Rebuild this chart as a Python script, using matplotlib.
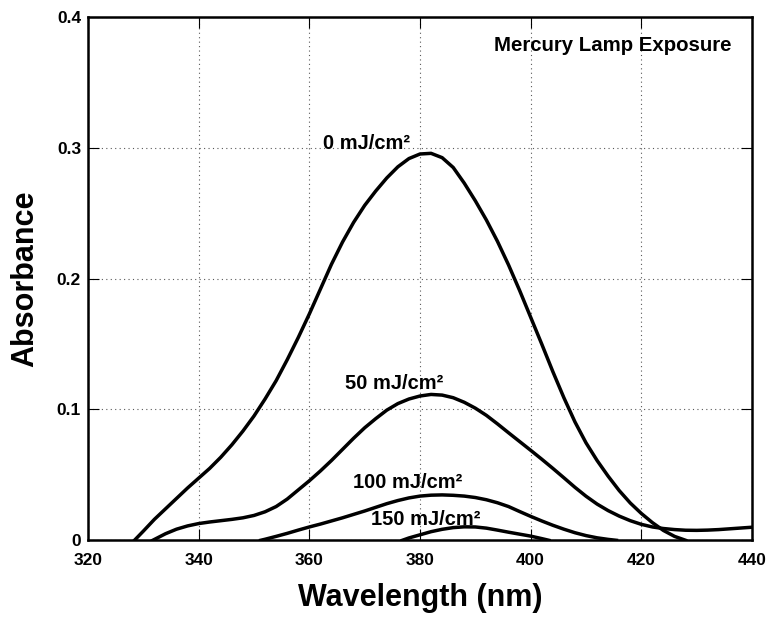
import matplotlib
matplotlib.use("Agg")
import matplotlib.pyplot as plt

plt.rcParams['font.family'] = ['Liberation Sans', 'DejaVu Sans']
plt.rcParams['font.weight'] = 'bold'

# Absorbance spectra (wavelength in nm)
wl_0 = [328.4, 330, 332, 334, 336, 338, 340, 342, 344, 346, 348, 350, 352, 354, 356, 358,
        360, 362, 364, 366, 368, 370, 372, 374, 376, 378, 380, 382, 384, 386, 388, 390,
        392, 394, 396, 398, 400, 402, 404, 406, 408, 410, 412, 414, 416, 418, 420, 422,
        424, 426, 428]
abs_0 = [0.0, 0.007, 0.016, 0.024, 0.032, 0.040, 0.0475, 0.055, 0.0635, 0.073, 0.0835, 0.095,
         0.108, 0.122, 0.138, 0.155, 0.173, 0.192, 0.211, 0.228, 0.243, 0.256, 0.267, 0.277,
         0.2855, 0.2918, 0.2953, 0.2958, 0.2925, 0.285, 0.273, 0.2595, 0.2448, 0.2285, 0.2105,
         0.191, 0.1705, 0.150, 0.129, 0.109, 0.0905, 0.0745, 0.061, 0.049, 0.038, 0.0285,
         0.0205, 0.0135, 0.0075, 0.003, 0.0]

wl_50 = [331.7, 334, 336, 338, 340, 342, 344, 346, 348, 350, 352, 354, 356, 358, 360, 362,
         364, 366, 368, 370, 372, 374, 376, 378, 380, 382, 384, 386, 388, 390, 392, 394,
         396, 398, 400, 402, 404, 406, 408, 410, 412, 414, 416, 418, 420, 422, 424, 426,
         428, 430, 432, 434, 436, 438, 440]
abs_50 = [0.0, 0.005, 0.0085, 0.011, 0.0128, 0.014, 0.015, 0.016, 0.0172, 0.019, 0.0218,
          0.0258, 0.0315, 0.0385, 0.0455, 0.053, 0.061, 0.0695, 0.078, 0.086, 0.093, 0.0995,
          0.1045, 0.108, 0.1103, 0.1115, 0.111, 0.109, 0.1055, 0.101, 0.0955, 0.089, 0.0822,
          0.0755, 0.0688, 0.062, 0.055, 0.0478, 0.0405, 0.0337, 0.0277, 0.0227, 0.0185,
          0.015, 0.0122, 0.0102, 0.009, 0.0082, 0.0077, 0.0076, 0.0078, 0.0082, 0.0088,
          0.0094, 0.0100]

wl_100 = [351.2, 352, 354, 356, 358, 360, 362, 364, 366, 368, 370, 372, 374, 376, 378, 380,
          382, 384, 386, 388, 390, 392, 394, 396, 398, 400, 402, 404, 406, 408, 410, 412,
          414, 415.5]
abs_100 = [0.0, 0.0008, 0.003, 0.0053, 0.0078, 0.0102, 0.0124, 0.0148, 0.0172, 0.0198,
           0.0224, 0.0252, 0.028, 0.0304, 0.0324, 0.0338, 0.0345, 0.0347, 0.0344, 0.0338,
           0.0327, 0.031, 0.0287, 0.0258, 0.022, 0.0183, 0.0148, 0.0115, 0.0085, 0.0058,
           0.0036, 0.0019, 0.0007, 0.0]

wl_150 = [376.8, 378, 380, 382, 384, 386, 388, 390, 392, 394, 396, 398, 400, 402, 403.3]
abs_150 = [0.0, 0.0018, 0.0042, 0.0066, 0.0084, 0.0097, 0.0103, 0.0102, 0.0093, 0.0078,
           0.0062, 0.0047, 0.0032, 0.0013, 0.0]

labels = ["0 mJ/cm²", "50 mJ/cm²", "100 mJ/cm²", "150 mJ/cm²"]
label_x = [370.4, 375.3, 377.8, 381.0]
label_y = [0.2995, 0.116, 0.0397, 0.0117]

fig = plt.figure(figsize=(7.71, 6.17), dpi=100)
ax = fig.add_axes([0.1141, 0.1243, 0.8613, 0.8481])

for wl, a in [(wl_0, abs_0), (wl_50, abs_50), (wl_100, abs_100), (wl_150, abs_150)]:
    ax.plot(wl, a, color='black', lw=2.5, solid_joinstyle='round')

for txt, x, y in zip(labels, label_x, label_y):
    ax.text(x, y, txt, ha='center', va='baseline', fontsize=14.5, fontweight='bold')

ax.text(436.2, 0.378, "Mercury Lamp Exposure", ha='right', va='center',
        fontsize=14.7, fontweight='bold')

ax.set_xlim(320, 440)
ax.set_ylim(0, 0.4)
ax.set_xticks([320, 340, 360, 380, 400, 420, 440])
ax.set_yticks([0, 0.1, 0.2, 0.3, 0.4])
ax.set_yticklabels(["0", "0.1", "0.2", "0.3", "0.4"])
ax.grid(True, color='0.35', linestyle=(0, (1, 3)), lw=0.8)
ax.tick_params(direction='in', length=8, width=0.8, top=True, right=True,
               labelsize=12.5)
ax.tick_params(axis='x', pad=9)
ax.tick_params(axis='y', pad=5)
for lab in ax.get_xticklabels() + ax.get_yticklabels():
    lab.set_fontweight('bold')
for sp in ax.spines.values():
    sp.set_linewidth(1.8)

ax.set_xlabel('Wavelength (nm)', fontsize=22, fontweight='bold', labelpad=11)
ax.set_ylabel('Absorbance', fontsize=22, fontweight='bold', labelpad=12)

fig.savefig('out.png', dpi=100)
